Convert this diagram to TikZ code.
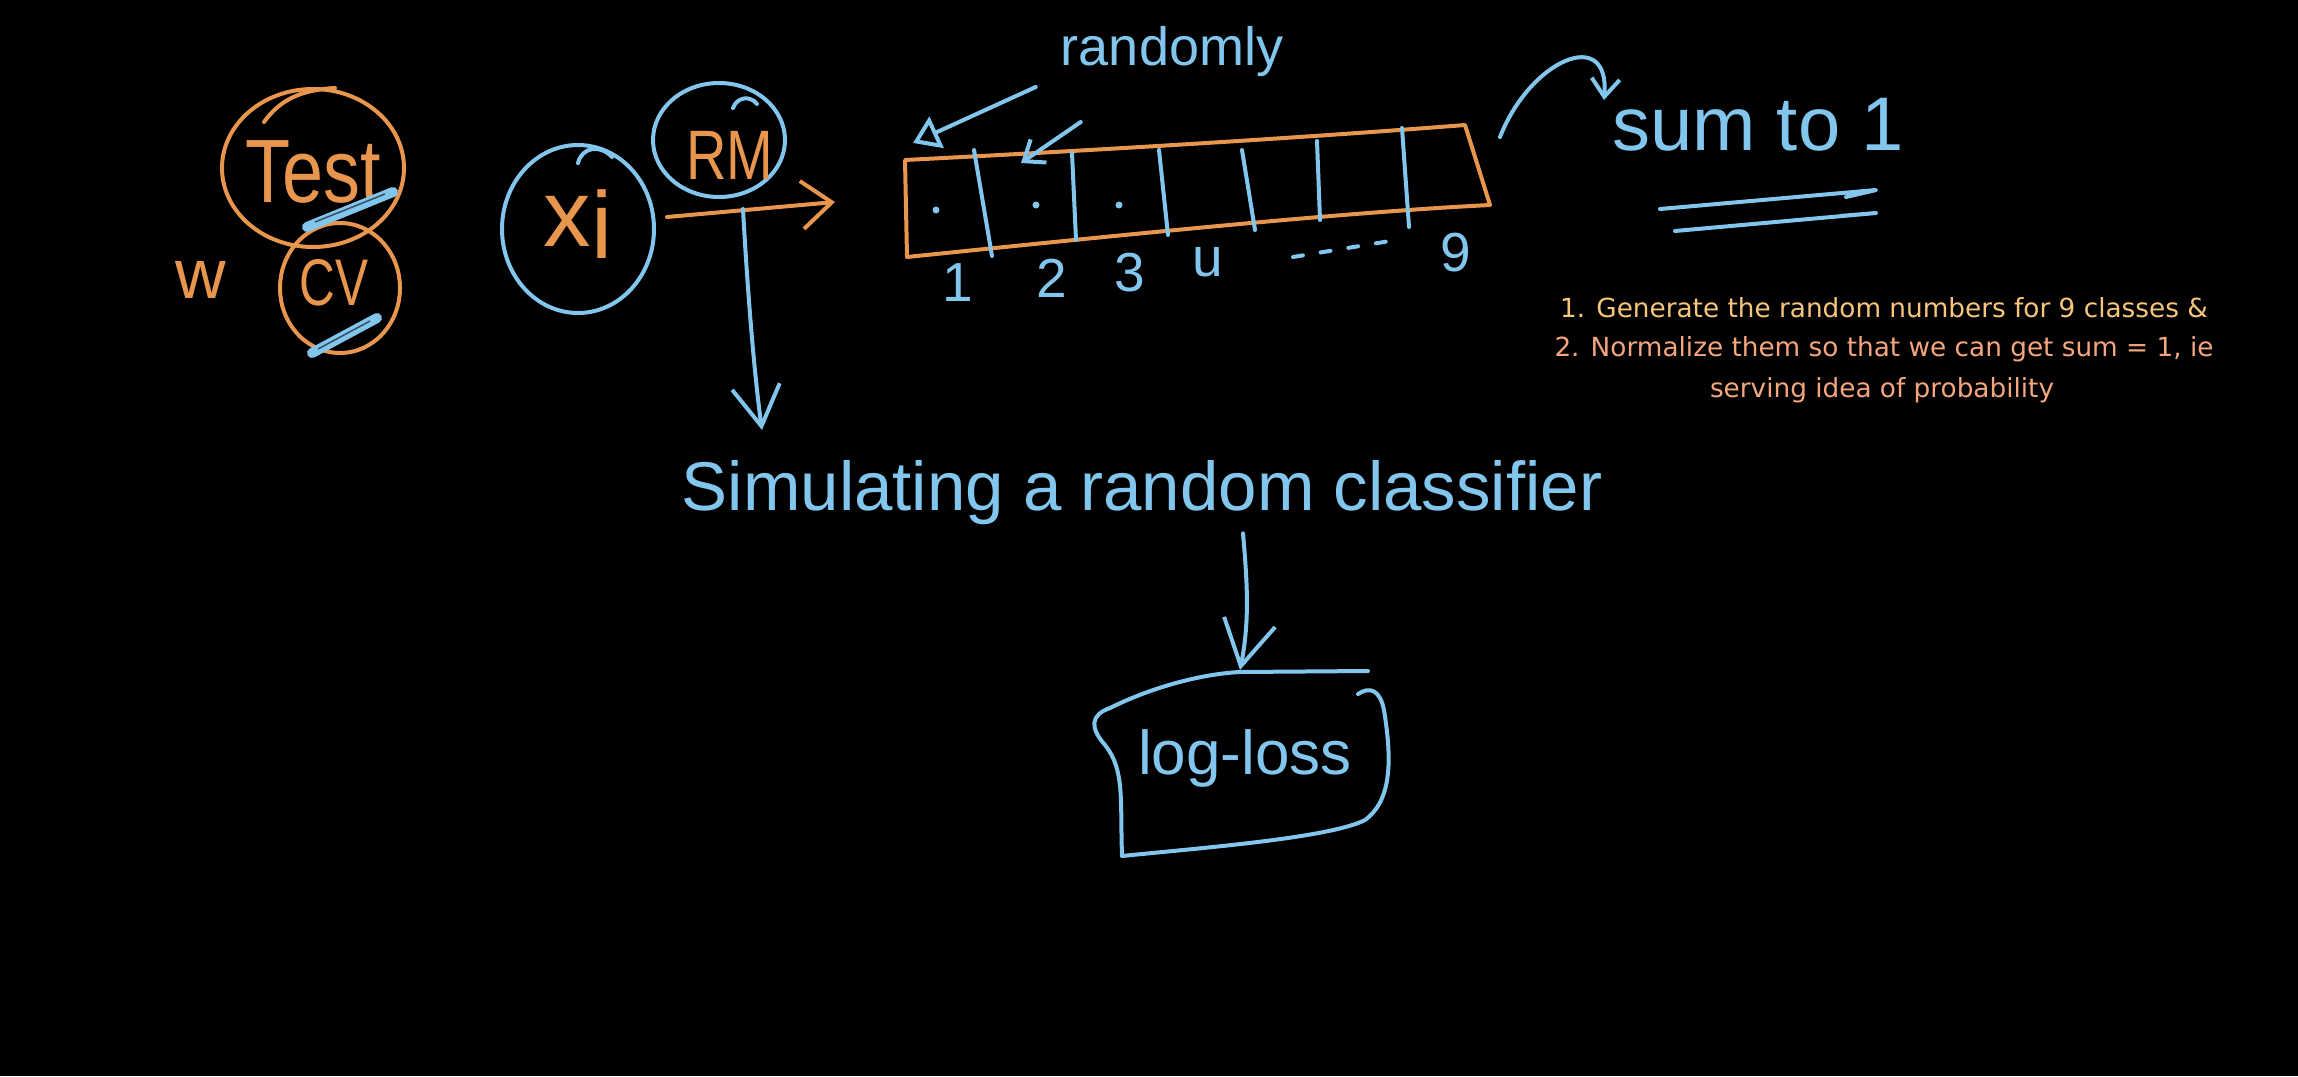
\documentclass[tikz,border=0pt]{standalone}
\usepackage{fontspec}
\setmainfont{Liberation Sans}
\newfontfamily\notefont{DejaVu Sans}
\usetikzlibrary{arrows.meta,shapes.geometric}
\definecolor{hblue}{HTML}{82C6EE}
\definecolor{horange}{HTML}{E8964E}
\definecolor{noteA}{HTML}{F7C57C}
\definecolor{noteB}{HTML}{F5A67E}
\newcommand{\hwfont}[1]{\fontsize{#1}{#1}\selectfont}
\begin{document}
\begin{tikzpicture}[x=1pt,y=-1pt,
  hand/.style={line width=4pt,line cap=round,line join=round},
  bl/.style={hand,draw=hblue},
  orl/.style={hand,draw=horange},
  circ/.style={ellipse,inner sep=0pt,hand},
  hw/.style={inner sep=0pt,font=\hwfont{#1}},
  notetxt/.style={inner sep=0pt,font=\notefont\fontsize{26.3}{30}\selectfont},
  barb/.style 2 args={-{Straight Barb[length=#1,width=#2]}},
  hilite/.style={line width=10pt,line cap=round,draw=hblue}
]
\fill[black] (0,0) rectangle (2298,1076);
\useasboundingbox (0,0) rectangle (2298,1076);

% Test / CV
\node[circ,draw=horange,minimum width=182pt,minimum height=158pt] (testc) at (313,168) {};
\draw[orl] (264,122) .. controls (280,100) and (300,90) .. (335,88);
\node[hw=90,text=horange] (test) at (313,172) {\scalebox{0.82}[1]{Test}};
\node[circ,draw=horange,minimum width=120pt,minimum height=130pt] (cvc) at (340,288) {};
\node[hw=66,text=horange] (cv) at (334,283) {\scalebox{0.75}[1]{CV}};
\draw[hilite] (307,227) -- (393,192);
\draw[line width=1.5pt,draw=black!60!hblue] (315,222) -- (385,194);
\draw[hilite] (312,353) -- (377,318);
\draw[line width=1.5pt,draw=black!60!hblue] (318,349) -- (370,321);
\node[hw=70,text=horange] (w) at (201,280) {w};

% x_i and RM
\node[circ,draw=hblue,minimum width=152pt,minimum height=168pt] (xic) at (578,229) {};
\draw[bl] (578,163) .. controls (582,147) and (600,144) .. (612,157);
\node[hw=95,text=horange] (xi) at (578,224) {x\raisebox{-12pt}{i}};
\node[circ,draw=hblue,minimum width=132pt,minimum height=114pt] (rmc) at (719,140) {};
\draw[bl] (733,108) .. controls (737,97) and (750,95) .. (757,104);
\node[hw=70,text=horange] (rm) at (730,155) {\scalebox{0.8}[1]{RM}};

\coordinate (oarr) at (835,202);
\draw[orl,barb={30pt}{48pt}] ([shift={(11,-12)}]xic.east) -- (oarr);
\coordinate (rmdown) at (762,430);
\draw[bl,barb={40pt}{48pt}] ([shift={(24,10)}]rmc.south) .. controls (748,300) and (755,380) .. (rmdown);

% array
\coordinate (b1) at (905,160);
\coordinate (b2) at (1465,125);
\coordinate (b3) at (1490,205);
\coordinate (b4) at (907,257);
\draw[orl] (b1) .. controls (1100,150) and (1300,138) .. (b2) -- (b3)
  .. controls (1350,212) and (1150,232) .. (b4) -- cycle;
\draw[bl] (974,150) -- (992,256);
\draw[bl] (1072,153) -- (1076,240);
\draw[bl] (1159,150) -- (1168,235);
\draw[bl] (1242,150) -- (1255,230);
\draw[bl] (1317,141) -- (1320,220);
\draw[bl] (1402,128) -- (1409,227);
\fill[hblue] (936,210) circle[radius=3.5];
\fill[hblue] (1036,205) circle[radius=3.5];
\fill[hblue] (1119,205) circle[radius=3.5];
\node[hw=55,text=hblue] (n1) at (958,283) {1};
\node[hw=55,text=hblue] (n2) at (1052,278) {2};
\node[hw=55,text=hblue] (n3) at (1130,273) {3};
\node[hw=55,text=hblue] (n4) at (1208,262) {u};
\node[hw=55,text=hblue] (n9) at (1456,253) {9};
\draw[bl,dash pattern=on 10pt off 18pt] (1293,257) -- (1390,241);

% randomly
\node[hw=54,text=hblue] (rand) at (1172,52) {randomly};
\coordinate (ar1) at (913,143);
\coordinate (ar2) at (1021,163);
\draw[bl,-{Triangle[open,length=26pt,width=34pt]}] ([shift={(-25,35)}]rand.west) -- (ar1);
\draw[bl,barb={18pt}{28pt}] ([shift={(20,70)}]rand.west) -- (ar2);

% sum to 1
\node[hw=76,text=hblue] (sum) at (1758,125) {sum to 1};
\coordinate (cs) at (1500,137);
\coordinate (sumtip) at (1604,100);
\draw[bl,barb={18pt}{28pt}] (cs) .. controls (1530,60) and (1610,25) .. (sumtip);
\draw[bl] (1660,209) -- (1876,190) -- (1846,197);
\draw[bl] (1675,231) -- (1876,213) -- (1840,216);

% note
\node[notetxt,text=noteA] (note1) at (1884,308) {1. Generate the random numbers for 9 classes \&};
\node[notetxt,text=noteB] (note2) at (1884,349) {2. Normalize them so that we can get sum = 1, ie};
\node[notetxt,text=noteB] (note3) at (1882,390) {serving idea of probability};

% simulating
\node[hw=69,text=hblue] (sim) at (1142,493) {Simulating a random classifier};
\coordinate (lltop) at (1240,670);
\draw[bl,barb={45pt}{52pt}] ([shift={(101,8)}]sim.south) .. controls (1247,580) and (1250,620) .. (lltop);

% log-loss box
\node[hw=62,text=hblue] (ll) at (1245,758) {log-loss};
\draw[bl] (1122,855) .. controls (1120,800) and (1125,770) .. (1105,745)
  .. controls (1090,728) and (1090,715) .. (1110,708)
  .. controls (1150,688) and (1200,674) .. (1240,672) -- (1368,671);
\draw[bl] (1358,694) .. controls (1370,686) and (1380,690) .. (1384,710)
  .. controls (1392,760) and (1392,800) .. (1365,820)
  .. controls (1330,838) and (1200,848) .. (1122,856);
\end{tikzpicture}
\end{document}
